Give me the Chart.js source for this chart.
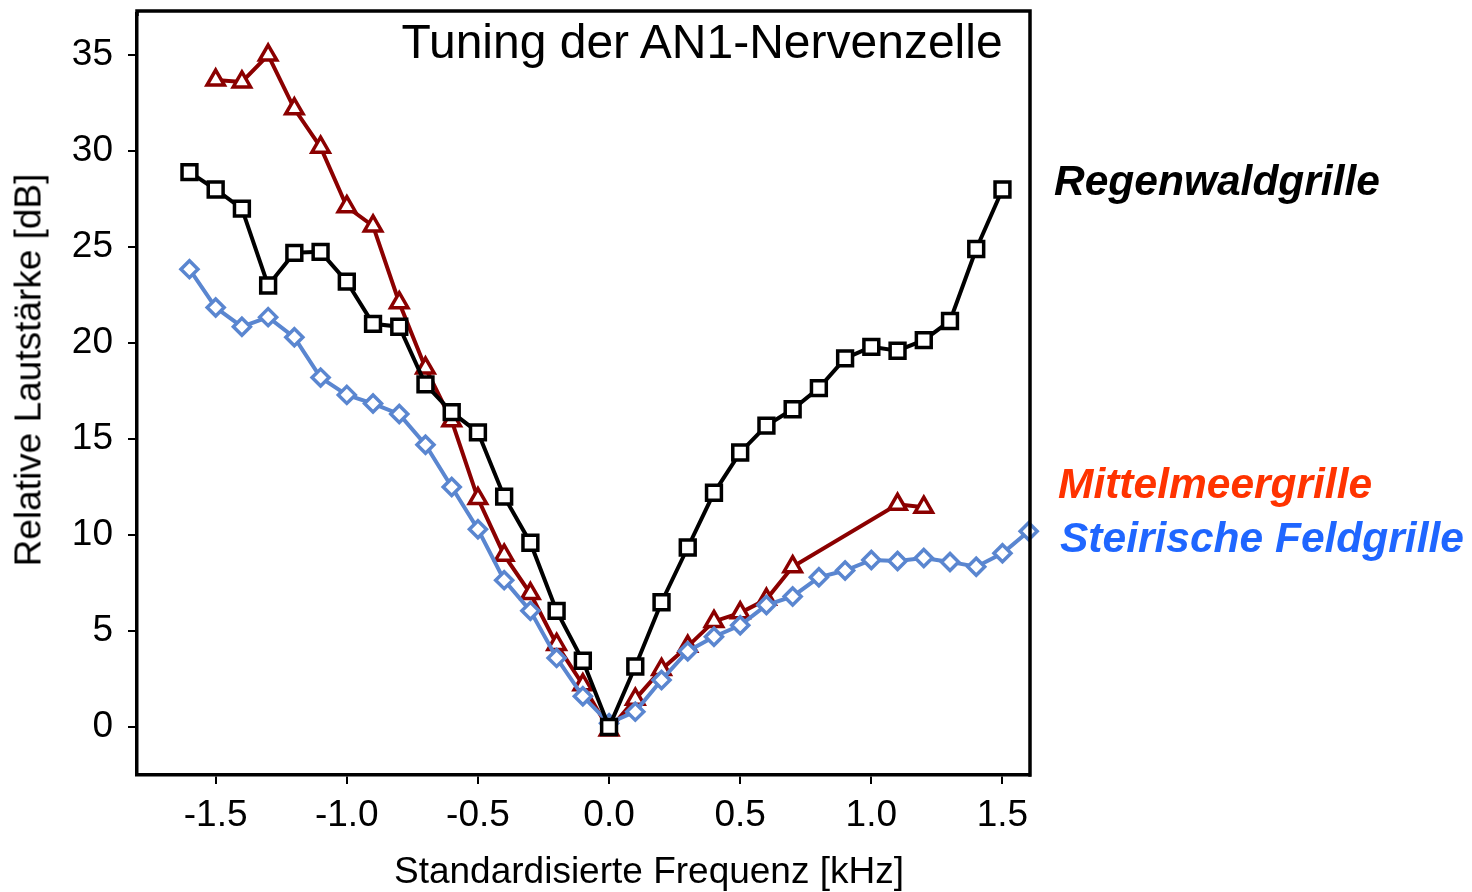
<!DOCTYPE html>
<html>
<head>
<meta charset="utf-8">
<script src="https://cdn.jsdelivr.net/npm/chart.js@4.4.1/dist/chart.umd.min.js"></script>
<style>
  body { margin: 0; background: #fff; }
  #wrap { position: relative; width: 1472px; height: 892px; }
  .txt {
    position: absolute;
    font-family: "Liberation Sans", Arial, sans-serif;
    line-height: 1;
    white-space: nowrap;
    pointer-events: none;
  }
  .legend { font-weight: bold; font-style: italic; font-size: 42.5px; transform: translateY(-50%); }
</style>
</head>
<body>
<div id="wrap">
  <canvas id="tuningChart"></canvas>
  <div class="txt" style="left:702px; top:42px; font-size:48px; transform:translate(-50%,-50%);">Tuning der AN1-Nervenzelle</div>
  <div class="txt" style="left:28px; top:370px; font-size:37px; transform:translate(-50%,-50%) rotate(-90deg);">Relative Lautstärke [dB]</div>
  <div class="txt" style="left:649px; top:870px; font-size:37px; transform:translate(-50%,-50%);">Standardisierte Frequenz [kHz]</div>
  <div class="txt legend" style="left:1054px; top:181px; color:#000;">Regenwaldgrille</div>
  <div class="txt legend" style="left:1058px; top:484px; color:#ff3300;">Mittelmeergrille</div>
  <div class="txt legend" style="left:1060px; top:538px; color:#1f66ff;">Steirische Feldgrille</div>
</div>
<script>
// DATA
const freqRegenwald = [-1.6, -1.5, -1.4, -1.3, -1.2, -1.1, -1.0, -0.9, -0.8, -0.7, -0.6, -0.5, -0.4, -0.3, -0.2, -0.1,
  0.0, 0.1, 0.2, 0.3, 0.4, 0.5, 0.6, 0.7, 0.8, 0.9, 1.0, 1.1, 1.2, 1.3, 1.4, 1.5];
const dbRegenwald = [28.9, 28.0, 27.0, 23.0, 24.7, 24.75, 23.2, 21.0, 20.85, 17.85, 16.4, 15.35, 12.0, 9.6, 6.05, 3.45,
  0.0, 3.15, 6.5, 9.35, 12.2, 14.3, 15.7, 16.55, 17.65, 19.2, 19.8, 19.6, 20.15, 21.15, 24.9, 28.0];

const freqMittelmeer = [-1.5, -1.4, -1.3, -1.2, -1.1, -1.0, -0.9, -0.8, -0.7, -0.6, -0.5, -0.4, -0.3, -0.2, -0.1,
  0.0, 0.1, 0.2, 0.3, 0.4, 0.5, 0.6, 0.7, 1.1, 1.2];
const dbMittelmeer = [33.7, 33.6, 35.0, 32.2, 30.2, 27.1, 26.1, 22.1, 18.7, 15.95, 11.9, 8.95, 6.95, 4.3, 2.2,
  -0.15, 1.45, 3.0, 4.2, 5.5, 5.95, 6.65, 8.35, 11.6, 11.45];

const freqSteirisch = [-1.6, -1.5, -1.4, -1.3, -1.2, -1.1, -1.0, -0.9, -0.8, -0.7, -0.6, -0.5, -0.4, -0.3, -0.2, -0.1,
  0.0, 0.1, 0.2, 0.3, 0.4, 0.5, 0.6, 0.7, 0.8, 0.9, 1.0, 1.1, 1.2, 1.3, 1.4, 1.5, 1.6];
const dbSteirisch = [23.85, 21.85, 20.85, 21.35, 20.3, 18.2, 17.3, 16.85, 16.3, 14.7, 12.5, 10.3, 7.65, 6.05, 3.6, 1.6,
  0.2, 0.8, 2.45, 3.95, 4.7, 5.3, 6.35, 6.8, 7.8, 8.15, 8.7, 8.65, 8.8, 8.6, 8.35, 9.05, 10.2];

const xTicks = [-1.5, -1.0, -0.5, 0.0, 0.5, 1.0, 1.5];
const yTicks = [0, 5, 10, 15, 20, 25, 30, 35];
const frameTop = 37.3; // top edge of the plot box, in dB

function toPoints(xs, ys) {
  return xs.map((x, i) => ({ x: x, y: ys[i] }));
}

// top + right frame lines (top sits a little above the chart area)
const framePlugin = {
  id: "frame",
  afterDatasetsDraw(chart) {
    const { ctx, chartArea: a } = chart;
    const top = chart.scales.y.getPixelForValue(frameTop);
    ctx.save();
    ctx.strokeStyle = "#000";
    ctx.lineWidth = 3.5;
    ctx.beginPath();
    ctx.moveTo(a.left, a.top + 2);
    ctx.lineTo(a.left, top);
    ctx.moveTo(a.left - 1.75, top);
    ctx.lineTo(a.right, top);
    ctx.lineTo(a.right, a.bottom + 1.75);
    ctx.stroke();
    ctx.restore();
  },
};

const tickFont = { family: "'Liberation Sans', Arial, sans-serif", size: 37 };

const ctx = document.getElementById("tuningChart").getContext("2d");

new Chart(ctx, {
  type: "scatter",
  data: {
    datasets: [
      {
        label: "Regenwaldgrille",
        data: toPoints(freqRegenwald, dbRegenwald),
        showLine: true,
        order: 0,
        borderColor: "#000000",
        borderWidth: 4,
        pointStyle: "rect",
        pointRadius: 10.5,
        pointBorderWidth: 3.5,
        pointBackgroundColor: "#ffffff",
        pointBorderColor: "#000000",
        clip: false,
      },
      {
        label: "Steirische Feldgrille",
        data: toPoints(freqSteirisch, dbSteirisch),
        showLine: true,
        order: 1,
        borderColor: "#5a86d0",
        borderWidth: 4,
        pointStyle: "rectRot",
        pointRadius: 8.5,
        pointBorderWidth: 3.5,
        pointBackgroundColor: "#ffffff",
        pointBorderColor: "#5a86d0",
        clip: false,
      },
      {
        label: "Mittelmeergrille",
        data: toPoints(freqMittelmeer, dbMittelmeer),
        showLine: true,
        order: 2,
        borderColor: "#8b0000",
        borderWidth: 4,
        pointStyle: "triangle",
        pointRadius: 10,
        pointBorderWidth: 3.5,
        pointBackgroundColor: "#ffffff",
        pointBorderColor: "#8b0000",
        clip: false,
      },
    ],
  },
  options: {
    responsive: true,
    maintainAspectRatio: false,
    animation: false,
    layout: { padding: { left: 0, top: 0, right: 442, bottom: 0 } },
    plugins: {
      legend: { display: false },
      tooltip: { enabled: false },
    },
    scales: {
      x: {
        type: "linear",
        min: -1.8,
        max: 1.605,
        afterBuildTicks: (scale) => {
          scale.ticks = xTicks.map((v) => ({ value: v }));
        },
        afterFit: (scale) => {
          scale.height = 117;
          scale.paddingLeft = 0;
          scale.paddingRight = 0;
        },
        grid: { display: true, drawOnChartArea: false, tickLength: 9, color: "#000", lineWidth: 2 },
        border: { display: true, color: "#000", width: 3.5 },
        ticks: {
          color: "#000",
          font: tickFont,
          padding: 10,
          maxRotation: 0,
          callback: (v) => Number(v).toFixed(1),
        },
      },
      y: {
        type: "linear",
        min: -2.5,
        max: 37.14,
        afterBuildTicks: (scale) => {
          scale.ticks = yTicks.map((v) => ({ value: v }));
        },
        afterFit: (scale) => {
          scale.width = 137;
          scale.paddingTop = 0;
          scale.paddingBottom = 0;
        },
        grid: { display: true, drawOnChartArea: false, tickLength: 9, color: "#000", lineWidth: 2 },
        border: { display: true, color: "#000", width: 3.5 },
        ticks: {
          color: "#000",
          font: tickFont,
          padding: 15,
          callback: (v) => String(v),
        },
      },
    },
  },
  plugins: [framePlugin],
});
</script>
</body>
</html>
